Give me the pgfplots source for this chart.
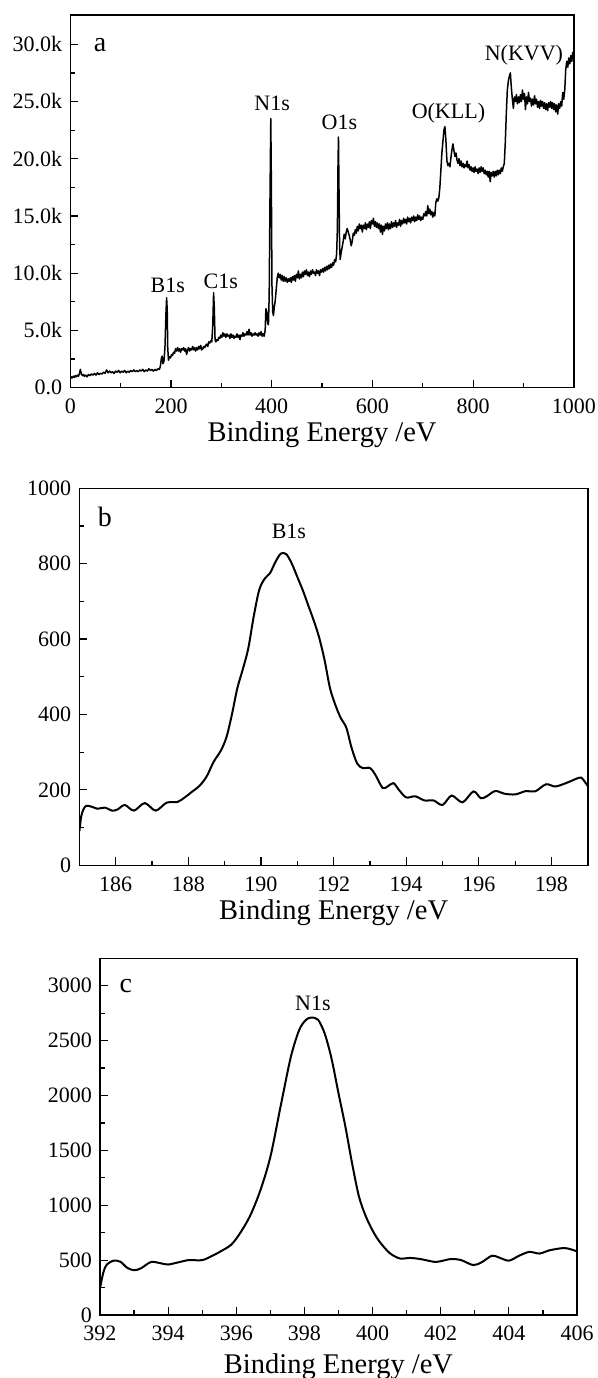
\documentclass[border=0pt]{standalone}
\usepackage{pgfplots}
\pgfplotsset{compat=1.18}
\usepackage{fontspec}
\setmainfont{Liberation Serif}

\tikzset{
  plab/.style={font=\fontsize{22bp}{24bp}\selectfont},
  panlab/.style={font=\fontsize{28bp}{30bp}\selectfont},
}
\pgfplotsset{
  myax/.style={
    scale only axis,
    anchor=south west,
    axis line style={line width=1.4bp},
    tick align=inside,
    tick pos=left,
    major tick length=8bp,
    minor tick length=4.5bp,
    every tick/.style={black, line width=1.2bp},
    every minor tick/.style={black, line width=1.2bp},
    tick label style={font=\fontsize{22bp}{24bp}\selectfont},
    /pgf/number format/assume math mode=true,
    /pgf/number format/1000 sep={},
    scaled ticks=false,
    xticklabel style={anchor=base, inner sep=0pt, yshift=-26bp},
    yticklabel style={anchor=east, inner sep=0pt, xshift=-8bp},
    xlabel style={font=\fontsize{28.5bp}{30bp}\selectfont, at={(axis description cs:0.5,0)}, anchor=base},
    minor x tick num=1,
    minor y tick num=1,
    xlabel={Binding Energy /eV},
  },
}

\begin{document}
\begin{tikzpicture}
\useasboundingbox (0,0) rectangle (598bp,1378bp);

% ---------------- panel a ----------------
\begin{axis}[myax, at={(70.3bp,990.3bp)}, width=503.5bp, height=372.7bp,
  xmin=0, xmax=1000, ymin=0, ymax=32.56,
  xtick={0,200,...,1000}, ytick={0,5,...,30},
  yticklabels={0.0,5.0k,10.0k,15.0k,20.0k,25.0k,30.0k},
  xlabel style={yshift=-54bp}]
\addplot[black, line width=1.5bp, mark=none, line join=round] table {
0 0.75
2 0.95
4 0.85
6 1.0
8 0.9
10 1.05
12 0.95
14 1.1
16 1.0
18 1.2
20 1.6
22 1.2
24 1.05
26 1.15
28 1.0
30 1.1
33 0.95
36 1.15
39 1.05
42 1.2
45 1.1
48 1.25
51 1.1
54 1.3
57 1.15
60 1.25
63 1.2
66 1.35
69 1.25
72 1.55
75 1.3
78 1.45
81 1.3
84 1.4
87 1.25
90 1.45
93 1.35
96 1.5
99 1.3
102 1.45
105 1.35
108 1.5
111 1.3
114 1.45
117 1.35
120 1.5
123 1.4
126 1.55
129 1.4
132 1.5
135 1.4
138 1.55
141 1.45
144 1.6
147 1.4
150 1.55
153 1.45
156 1.65
159 1.5
162 1.6
165 1.45
168 1.6
171 1.5
174 1.65
177 1.6
179 1.9
181 2.6
182.5 2.75
184 2.1
186 2.3
188 3.5
190 6.5
191.3 7.85
192.5 6.8
193.5 3.5
195 2.4
197 2.7
199 2.6
201 2.9
203 2.8
205 3.1
207 3.0
209 3.4
211 3.2
213 3.5
215 3.2
217 3.4
219 3.1
221 3.4
223 3.3
225 3.5
227 3.2
229 3.4
231 2.9
233 3.3
235 3.5
237 3.2
239 3.4
241 3.3
243 3.6
245 3.3
247 3.5
249 3.2
251 3.5
253 3.3
255 3.6
257 3.4
259 3.7
261 3.3
263 3.4
265 3.6
267 3.5
269 3.7
271 3.8
273 3.6
275 4.0
277 3.9
279 4.1
281 4.0
283 5.5
284.6 8.3
286 7.0
287.5 4.2
289 4.0
291 4.2
293 4.1
295 4.4
297 4.3
299 4.6
301 4.4
303 4.8
305 4.5
307 4.7
309 4.4
311 4.7
313 4.5
315 4.6
317 4.3
319 4.7
321 4.4
323 4.6
325 4.3
327 4.5
329 4.4
331 4.7
333 4.4
335 4.6
337 4.2
339 4.6
341 4.5
343 4.8
345 4.5
347 4.7
349 4.6
351 4.9
353 4.6
355 5.1
357 4.6
359 4.8
361 4.5
363 4.7
365 4.6
367 4.8
369 4.6
371 4.7
373 4.5
375 4.8
377 4.6
379 4.9
381 4.5
383 4.7
385 4.5
387 5.0
388.5 6.9
390 6.7
392 5.6
393.5 5.5
395 8.0
396.5 16.0
398.2 23.5
399.3 18.0
400.5 9.0
402 6.6
403.5 6.3
405 7.0
407 7.6
409 8.6
411 9.6
413 10.0
415 9.6
417 9.9
419 9.4
421 9.8
423 9.3
425 9.7
427 9.3
429 9.6
431 9.2
433 9.5
435 9.3
437 9.6
439 9.2
441 9.7
443 9.4
445 9.8
447 9.3
449 9.9
451 9.6
453 10.2
455 9.5
457 9.9
459 9.6
461 10.1
463 9.7
465 10.2
467 9.9
469 10.3
471 9.8
473 10.1
475 9.7
477 10.2
479 9.9
481 10.3
483 10.0
485 10.1
487 9.8
489 10.3
491 10.0
493 10.2
495 9.8
497 10.3
499 10.1
501 10.4
503 10.1
505 10.5
507 10.2
509 10.6
511 10.3
513 10.7
515 10.4
517 10.8
519 10.5
521 10.9
523 10.7
525 11.2
527 11.0
529 11.7
530.5 14.0
531.7 19.5
532.6 21.9
533.5 18.0
534.8 12.5
536 11.2
538 11.8
540 12.3
542 12.8
544 13.4
546 13.0
548 13.6
550 13.9
552 13.6
554 13.3
556 12.9
558 12.4
560 12.8
562 13.5
564 13.3
566 13.8
568 13.5
570 14.1
572 13.7
574 14.3
576 13.9
578 14.2
580 13.6
582 14.2
584 13.9
586 14.4
588 13.8
590 14.3
592 14.0
594 14.5
596 13.9
598 14.6
600 14.3
602 14.8
604 14.1
606 14.5
608 14.0
610 14.4
612 13.9
614 14.3
616 13.6
618 14.2
620 13.4
622 14.1
624 13.7
626 14.3
628 13.9
630 14.4
632 13.8
634 14.3
636 13.9
638 14.5
640 14.0
642 14.4
644 14.1
646 14.6
648 14.0
650 14.4
652 14.2
654 14.7
656 14.1
658 14.6
660 14.3
662 14.8
664 14.4
666 14.7
668 14.3
670 14.9
672 14.5
674 14.8
676 14.4
678 14.9
680 14.6
682 15.0
684 14.5
686 14.9
688 14.6
690 15.1
692 14.7
694 15.0
696 14.6
698 14.9
700 14.7
702 15.2
704 15.0
706 15.4
708 15.0
710 15.9
712 15.2
714 15.6
716 15.1
718 15.4
720 14.9
722 15.3
724 15.0
726 16.2
728 16.5
730 16.3
732 16.6
734 17.5
736 19.0
738 20.5
740 21.5
742 22.5
744 22.8
746 21.6
748 19.8
750 19.4
752 19.6
754 19.3
756 20.1
758 20.8
760 21.3
762 20.7
764 20.2
766 20.5
768 19.9
770 19.6
772 20.0
774 19.4
776 19.8
778 19.3
780 19.6
782 19.2
784 19.5
786 19.3
788 19.8
790 19.2
792 19.5
794 19.0
796 19.3
798 18.9
800 19.2
802 18.8
804 19.3
806 18.9
808 19.1
810 18.7
812 19.2
814 18.8
816 19.3
818 18.9
820 19.2
822 18.7
824 19.0
826 18.6
828 18.9
830 18.4
832 18.9
834 18.0
836 18.8
838 18.5
840 18.9
842 18.4
844 18.9
846 18.5
848 19.0
850 18.6
852 19.0
854 18.7
856 19.2
858 18.9
860 19.3
862 19.6
864 21.5
866 24.0
868 26.0
870 26.8
872 27.2
874 27.5
876 26.2
878 25.2
880 24.4
882 25.4
884 25.0
886 25.6
888 24.8
890 25.4
892 24.9
894 25.6
896 25.0
898 26.0
900 25.2
902 25.7
904 24.3
906 25.4
908 24.8
910 25.8
912 25.0
914 25.3
916 24.6
918 25.2
920 24.7
922 25.5
924 24.8
926 25.2
928 24.5
930 25.0
932 24.4
934 25.1
936 24.6
938 25.0
940 24.4
942 24.9
944 24.3
946 24.8
948 24.2
950 24.9
952 24.5
954 25.0
956 24.4
958 24.9
960 24.3
962 24.8
964 24.1
966 24.7
968 23.9
970 24.8
972 24.4
974 25.0
976 24.6
978 25.8
980 25.2
982 26.0
984 27.8
986 28.5
988 28.0
990 28.8
992 28.3
994 29.0
996 28.5
998 29.3
1000 28.7
};
\node[panlab] at (axis cs:59,29.9) {a};
\node[plab] at (axis cs:193.5,8.97) {B1s};
\node[plab] at (axis cs:298.8,9.26) {C1s};
\node[plab] at (axis cs:401,24.84) {N1s};
\node[plab] at (axis cs:534.4,23.2) {O1s};
\node[plab] at (axis cs:751,23.96) {O(KLL)};
\node[plab] at (axis cs:901,29.06) {N(KVV)};
\end{axis}

% ---------------- panel b ----------------
\begin{axis}[myax, at={(79.4bp,512.7bp)}, width=508.4bp, height=377bp,
  xmin=185, xmax=199, ymin=0, ymax=1000,
  xtick={186,188,...,198}, ytick={0,200,...,1000},
  xlabel style={yshift=-54.7bp}]
\addplot[black, line width=2bp, mark=none, smooth] table {
185.0 90
185.05 130
185.12 150
185.2 158
185.35 155
185.5 150
185.7 153
185.9 145
186.05 148
186.25 160
186.5 145
186.8 165
187.1 145
187.4 166
187.7 168
187.9 180
188.1 195
188.3 210
188.5 235
188.7 275
188.9 305
189.05 340
189.2 400
189.35 470
189.5 520
189.65 575
189.8 660
189.95 730
190.1 760
190.25 775
190.4 805
190.55 827
190.7 825
190.85 800
191.0 765
191.15 730
191.3 690
191.45 650
191.6 605
191.75 545
191.9 470
192.05 425
192.2 390
192.35 365
192.5 310
192.65 270
192.8 258
193.0 258
193.15 240
193.35 205
193.5 210
193.65 218
193.8 200
194.0 180
194.25 183
194.5 172
194.75 172
195.0 160
195.25 185
195.55 167
195.85 196
196.05 178
196.2 182
196.45 197
196.7 190
197.0 188
197.3 197
197.55 196
197.85 215
198.1 209
198.4 218
198.75 232
198.85 230
199.0 210
};
\node[panlab] at (axis cs:185.7,925) {b};
\node[plab] at (axis cs:190.77,885) {B1s};
\end{axis}

% ---------------- panel c ----------------
\begin{axis}[myax, at={(100bp,63bp)}, width=477bp, height=356.7bp,
  xmin=392, xmax=406, ymin=0, ymax=3250,
  xtick={392,394,...,406}, ytick={0,500,...,3000},
  xticklabel style={yshift=1bp},
  xlabel style={yshift=-58.3bp}]
\addplot[black, line width=2bp, mark=none, smooth] table {
392.0 243
392.1 390
392.2 460
392.4 495
392.6 485
392.8 430
393.0 408
393.2 425
393.5 483
393.8 470
394.0 460
394.3 480
394.6 500
395.0 500
395.3 540
395.6 590
395.85 640
396.1 740
396.4 900
396.7 1130
397.0 1440
397.3 1900
397.6 2350
397.85 2600
398.05 2690
398.2 2710
398.4 2690
398.6 2560
398.8 2330
399.0 2020
399.2 1720
399.4 1380
399.6 1080
399.8 900
400.0 770
400.2 670
400.5 565
400.8 515
401.1 520
401.4 510
401.8 485
402.0 490
402.3 510
402.6 500
402.95 455
403.2 480
403.5 540
403.7 525
404.0 495
404.3 540
404.6 575
404.9 560
405.2 590
405.6 610
405.8 600
406.0 580
};
\node[panlab] at (axis cs:392.76,3000) {c};
\node[plab] at (axis cs:398.25,2840) {N1s};
\end{axis}
\end{tikzpicture}
\end{document}
